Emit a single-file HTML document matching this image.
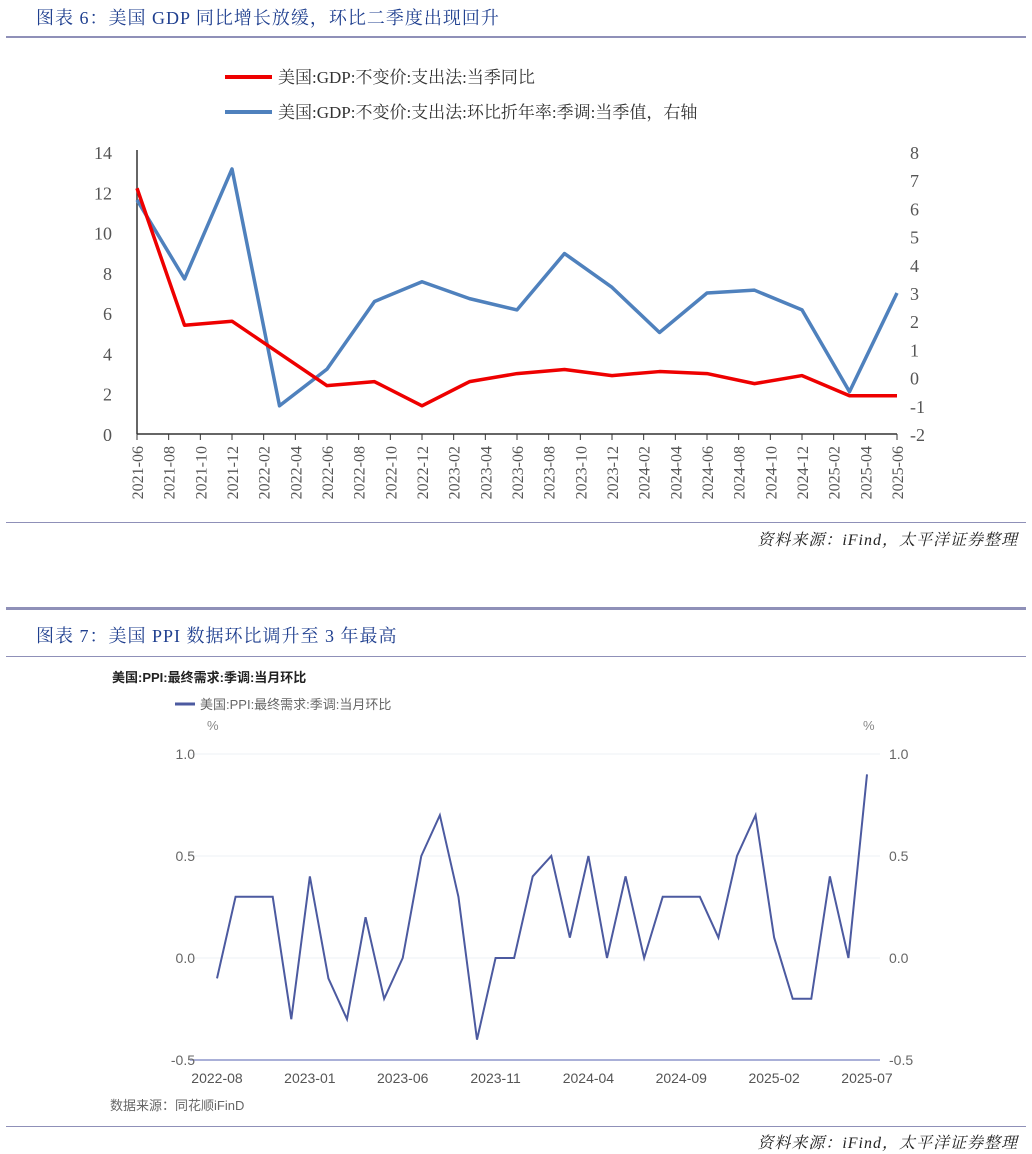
<!DOCTYPE html>
<html><head><meta charset="utf-8"><style>
body{margin:0;width:1032px;height:1154px;background:#fff;position:relative;overflow:hidden;font-family:"Liberation Serif","Noto Serif CJK SC",serif}
.t{position:absolute;color:#1f3f8f;font-size:18px;letter-spacing:1px}
.hr{position:absolute;left:6px;width:1020px;background:#8f90b8}
.src{position:absolute;right:14px;font-style:italic;font-size:16px;color:#222;letter-spacing:1px}
</style></head><body>
<div class="t" style="left:36px;top:4px">图表 6：美国 GDP 同比增长放缓，环比二季度出现回升</div>
<div class="hr" style="top:36px;height:2px"></div>
<svg id="c1" width="1032" height="520" style="position:absolute;left:0;top:0" font-family="Liberation Serif, Noto Serif CJK SC, serif"></svg>
<div class="hr" style="top:522px;height:1px"></div>
<div class="src" style="top:527px">资料来源：iFind，太平洋证券整理</div>
<div class="hr" style="top:607px;height:3px"></div>
<div class="t" style="left:36px;top:622px">图表 7：美国 PPI 数据环比调升至 3 年最高</div>
<div class="hr" style="top:656px;height:1px"></div>
<svg id="c2" width="1032" height="470" style="position:absolute;left:0;top:660px" font-family="Liberation Sans, Noto Sans CJK SC, sans-serif"></svg>
<div class="hr" style="top:1126px;height:1px"></div>
<div class="src" style="top:1130px">资料来源：iFind，太平洋证券整理</div>
<script>
const NS='http://www.w3.org/2000/svg';
function mk(p,tag,a,txt){const e=document.createElementNS(NS,tag);for(const k in a)e.setAttribute(k,a[k]);if(txt!==undefined)e.textContent=txt;p.appendChild(e);return e;}
// ---- Chart 1 data ----
const gdpLabels=['2021-06','2021-08','2021-10','2021-12','2022-02','2022-04','2022-06','2022-08','2022-10','2022-12','2023-02','2023-04','2023-06','2023-08','2023-10','2023-12','2024-02','2024-04','2024-06','2024-08','2024-10','2024-12','2025-02','2025-04','2025-06'];
const gdpYoY=[12.2,5.4,5.6,4.0,2.4,2.6,1.4,2.6,3.0,3.2,2.9,3.1,3.0,2.5,2.9,1.9,1.9];
const gdpQoQ=[6.3,3.5,7.4,-1.0,0.3,2.7,3.4,2.8,2.4,4.4,3.2,1.6,3.0,3.1,2.4,-0.5,3.0];
const leftTicks=[0,2,4,6,8,10,12,14];
const rightTicks=[-2,-1,0,1,2,3,4,5,6,7,8];
const c1=document.getElementById('c1');
const X0=137,X1=897,Y0=434,Y1=152;
const xq=i=>X0+i*(X1-X0)/(gdpYoY.length-1);
const xl=i=>X0+i*(X1-X0)/(gdpLabels.length-1);
const yL=v=>Y0-(v-0)/14*(Y0-Y1);
const yR=v=>Y0-(v+2)/10*(Y0-Y1);
// legend
let e=mk(c1,'line',{x1:225,y1:77,x2:272,y2:77,stroke:'#ee0000','stroke-width':4});

e=mk(c1,'text',{x:278,y:83,'font-size':17,fill:'#333'},'美国:GDP:不变价:支出法:当季同比');

e=mk(c1,'line',{x1:225,y1:112,x2:272,y2:112,stroke:'#4f81bd','stroke-width':4});

e=mk(c1,'text',{x:278,y:118,'font-size':17,fill:'#333'},'美国:GDP:不变价:支出法:环比折年率:季调:当季值，右轴');

// axes
e=mk(c1,'line',{x1:X0,y1:150,x2:X0,y2:Y0,stroke:'#333','stroke-width':1.5});

e=mk(c1,'line',{x1:X0,y1:Y0,x2:X1,y2:Y0,stroke:'#333','stroke-width':1.5});

leftTicks.forEach(v=>{const t=mk(c1,'text',{x:112,y:yL(v)+7,'font-size':18,fill:'#555','text-anchor':'end'},String(v));
});
rightTicks.forEach(v=>{const t=mk(c1,'text',{x:910,y:yR(v)+7,'font-size':18,fill:'#555'},String(v));
});
gdpLabels.forEach((l,i)=>{const x=xl(i);
const tk=mk(c1,'line',{x1:x,y1:Y0,x2:x,y2:Y0+6,stroke:'#333'});

const t=mk(c1,'text',{x:0,y:0,'font-size':16,fill:'#555','text-anchor':'end',transform:`translate(${x+6},${Y0+12}) rotate(-90)`},l);
});
e=mk(c1,'polyline',{points:gdpQoQ.map((v,i)=>xq(i)+','+yR(v)).join(' '),fill:'none',stroke:'#4f81bd','stroke-width':3.5,'stroke-linejoin':'round'});

e=mk(c1,'polyline',{points:gdpYoY.map((v,i)=>xq(i)+','+yL(v)).join(' '),fill:'none',stroke:'#ee0000','stroke-width':3.5,'stroke-linejoin':'round'});

// ---- Chart 2 data ----
const ppiLabels=['2022-08','2023-01','2023-06','2023-11','2024-04','2024-09','2025-02','2025-07'];
const ppiValues=[-0.1,0.3,0.3,0.3,-0.3,0.4,-0.1,-0.3,0.2,-0.2,0.0,0.5,0.7,0.3,-0.4,0.0,0.0,0.4,0.5,0.1,0.5,0.0,0.4,0.0,0.3,0.3,0.3,0.1,0.5,0.7,0.1,-0.2,-0.2,0.4,0.0,0.9];
const ppiTicks=[-0.5,0.0,0.5,1.0];
const c2=document.getElementById('c2');
const PX0=217,PX1=867,PY0=400,PY1=94;
const px=i=>PX0+i*(PX1-PX0)/(ppiValues.length-1);
const py=v=>PY0-(v+0.5)/1.5*(PY0-PY1);
e=mk(c2,'text',{x:112,y:22,'font-size':13,'font-weight':'bold',fill:'#222'},'美国:PPI:最终需求:季调:当月环比');

e=mk(c2,'line',{x1:175,y1:44,x2:195,y2:44,stroke:'#4c5aa0','stroke-width':3});

e=mk(c2,'text',{x:200,y:49,'font-size':13,fill:'#666'},'美国:PPI:最终需求:季调:当月环比');

e=mk(c2,'text',{x:207,y:70,'font-size':13,fill:'#888'},'%');
e=mk(c2,'text',{x:863,y:70,'font-size':13,fill:'#888'},'%');
ppiTicks.forEach(v=>{const y=py(v);
const g=mk(c2,'line',{x1:190,y1:y,x2:880,y2:y,stroke:v===-0.5?'#aab0d8':'#eef0f6','stroke-width':v===-0.5?2:1});

const a=mk(c2,'text',{x:195,y:y+5,'font-size':14,fill:'#666','text-anchor':'end'},v.toFixed(1));

const b=mk(c2,'text',{x:889,y:y+5,'font-size':14,fill:'#666'},v.toFixed(1));
});
ppiLabels.forEach((l,i)=>{const t=mk(c2,'text',{x:px(i*5),y:PY0+23,'font-size':14,fill:'#555','text-anchor':'middle'},l);
});
e=mk(c2,'polyline',{points:ppiValues.map((v,i)=>px(i)+','+py(v)).join(' '),fill:'none',stroke:'#4c5aa0','stroke-width':2});

e=mk(c2,'text',{x:110,y:450,'font-size':13,fill:'#666'},'数据来源：同花顺iFinD');

</script>
</body></html>
